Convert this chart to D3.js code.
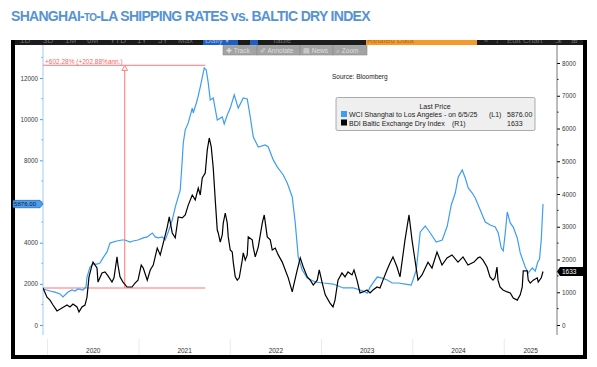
<!DOCTYPE html>
<html>
<head>
<meta charset="utf-8">
<script src="https://cdn.jsdelivr.net/npm/d3@7"></script>
<style>
body { margin: 0; background: #fff; }
svg { display: block; font-family: "Liberation Sans", Arial, sans-serif; }
</style>
</head>
<body>
<svg id="chart" width="597" height="367"></svg>
<script>
//WCI Shanghai to Los Angeles, weekly, USD per 40ft (left axis)
var wciData = [
	["2019-12-14",1750],["2020-01-11",1650],["2020-01-31",1600],["2020-02-20",1510],["2020-03-03",1360],["2020-03-11",1460],
	["2020-03-23",1600],["2020-04-08",1700],["2020-04-20",1650],["2020-05-02",1750],["2020-05-22",1700],["2020-06-03",1850],
	["2020-06-07",2330],["2020-06-19",2820],["2020-07-01",2960],["2020-07-17",2960],["2020-07-29",3010],["2020-08-10",3260],
	["2020-08-26",3550],["2020-09-07",3980],["2020-09-19",4030],["2020-10-05",4080],["2020-10-25",4130],["2020-11-06",4130],
	["2020-11-26",4030],["2020-12-08",4080],["2020-12-28",4130],["2021-01-18",4230],["2021-02-03",4280],["2021-02-23",4470],
	["2021-03-07",4280],["2021-03-19",4230],["2021-04-04",4280],["2021-04-16",4130],["2021-04-28",4520],["2021-05-14",5100],
	["2021-05-26",5730],["2021-06-15",6560],["2021-06-23",8020],["2021-06-27",8840],["2021-07-05",9480],["2021-07-17",9820],
	["2021-08-02",10540],["2021-08-06",10300],["2021-08-22",10930],["2021-09-03",11560],["2021-09-19",12490],["2021-09-27",12390],
	["2021-10-05",11760],["2021-10-13",10930],["2021-10-25",11030],["2021-11-10",9960],["2021-11-30",10110],["2021-12-08",9770],
	["2021-12-20",10200],["2022-01-01",10540],["2022-01-17",11180],["2022-02-02",10540],["2022-02-22",11030],["2022-03-10",10980],
	["2022-03-22",10110],["2022-04-03",9140],["2022-04-23",8650],["2022-05-21",8750],["2022-06-02",8650],["2022-06-22",8020],
	["2022-07-08",7680],["2022-08-01",7290],["2022-08-17",6900],["2022-09-06",6220],["2022-09-18",4960],["2022-09-30",3300],
	["2022-10-16",2670],["2022-11-05",2280],["2022-12-07",2090],["2023-01-08",2040],["2023-02-17",1990],["2023-03-29",1800],
	["2023-05-08",1800],["2023-06-17",1650],["2023-07-03",1550],["2023-07-15",1850],["2023-08-12",2330],["2023-09-01",2280],
	["2023-09-21",2190],["2023-10-11",2040],["2023-11-04",2040],["2023-12-02",1990],["2023-12-26",1940],["2024-01-15",2670],
	["2024-01-31",4520],["2024-02-20",4810],["2024-03-11",4470],["2024-04-04",4030],["2024-04-28",4130],["2024-05-18",4810],
	["2024-06-03",5830],["2024-06-19",6410],["2024-07-01",7190],["2024-07-17",7530],["2024-07-29",7140],["2024-08-10",6660],
	["2024-08-26",6410],["2024-09-07",6170],["2024-09-27",5590],["2024-10-17",5000],["2024-11-06",4860],["2024-11-26",4760],
	["2024-12-08",4470],["2024-12-20",3740],["2024-12-28",3600],["2025-01-05",4470],["2025-01-13",5490],["2025-01-25",4960],
	["2025-02-06",4760],["2025-02-22",4230],["2025-03-06",3500],["2025-03-26",2820],["2025-04-07",2530],["2025-04-23",2770],
	["2025-05-05",2620],["2025-05-15",3060],["2025-05-22",3200],["2025-05-29",4130],["2025-06-05",5876]
];

//BDI Baltic Exchange Dry Index (right axis)
var bdiData = [
	["2019-12-14",1130],["2019-12-30",850],["2020-01-11",760],["2020-01-23",610],["2020-02-08",430],["2020-02-28",520],
	["2020-03-19",610],["2020-03-31",550],["2020-04-12",640],["2020-04-28",550],["2020-05-06",400],["2020-05-18",550],
	["2020-05-30",610],["2020-06-07",850],["2020-06-15",1470],["2020-06-27",1830],["2020-07-01",1920],["2020-07-17",1740],
	["2020-07-21",1310],["2020-08-06",1590],["2020-08-18",1620],["2020-08-30",1500],["2020-09-15",1310],["2020-09-23",1440],
	["2020-10-05",2080],["2020-10-09",1830],["2020-10-17",1470],["2020-10-29",1310],["2020-11-14",1160],["2020-12-04",1160],
	["2020-12-16",1280],["2020-12-28",1370],["2021-01-10",1830],["2021-01-18",1740],["2021-02-03",1370],["2021-02-15",1680],
	["2021-02-27",1830],["2021-03-15",2350],["2021-03-27",2140],["2021-04-08",2500],["2021-04-24",2990],["2021-05-02",3300],
	["2021-05-14",2810],["2021-05-26",2660],["2021-06-07",3300],["2021-06-23",3270],["2021-07-05",3360],["2021-07-17",3660],
	["2021-08-02",3970],["2021-08-14",3820],["2021-08-26",4180],["2021-09-03",3970],["2021-09-11",4490],["2021-09-23",4640],
	["2021-10-01",5340],["2021-10-09",5710],["2021-10-17",5440],["2021-10-25",4790],["2021-11-02",3820],["2021-11-10",2900],
	["2021-11-14",2810],["2021-11-22",2530],["2021-11-30",2750],["2021-12-04",3110],["2021-12-12",3420],["2021-12-20",3110],
	["2021-12-24",2690],["2022-01-01",2290],["2022-01-09",2230],["2022-01-13",1920],["2022-01-21",1470],["2022-01-29",1370],
	["2022-02-06",1440],["2022-02-18",1980],["2022-02-22",2200],["2022-03-02",1980],["2022-03-10",2140],["2022-03-14",2690],
	["2022-03-30",2600],["2022-04-03",2380],["2022-04-11",2080],["2022-04-23",2380],["2022-05-09",3110],["2022-05-17",3360],
	["2022-05-29",2690],["2022-06-10",2600],["2022-06-18",2290],["2022-06-30",2350],["2022-07-12",2140],["2022-07-28",1920],
	["2022-08-09",1680],["2022-08-21",1440],["2022-09-06",1010],["2022-09-10",1160],["2022-09-26",1680],["2022-10-08",2050],
	["2022-10-20",1770],["2022-11-05",1470],["2022-11-17",1370],["2022-11-29",1220],["2022-12-15",1370],["2022-12-23",1680],
	["2023-01-04",1280],["2023-01-16",920],["2023-02-04",670],["2023-02-16",550],["2023-02-24",760],["2023-03-08",1370],
	["2023-03-24",1590],["2023-04-05",1470],["2023-04-17",1620],["2023-05-03",1530],["2023-05-11",1680],["2023-05-23",1370],
	["2023-06-04",980],["2023-06-16",1010],["2023-07-02",1070],["2023-07-14",980],["2023-07-26",1070],["2023-08-11",1160],
	["2023-08-23",1130],["2023-09-04",1370],["2023-09-20",1680],["2023-10-02",1890],["2023-10-14",2080],["2023-10-30",1770],
	["2023-11-11",1470],["2023-12-01",2600],["2023-12-17",3360],["2023-12-29",2600],["2024-01-10",1980],["2024-01-22",1370],
	["2024-02-07",1530],["2024-03-02",1920],["2024-03-18",1740],["2024-04-07",2230],["2024-04-27",1830],["2024-05-17",2050],
	["2024-06-06",2140],["2024-06-30",1920],["2024-07-20",2080],["2024-08-09",1830],["2024-09-02",1920],["2024-09-18",2050],
	["2024-09-26",2080],["2024-10-08",1980],["2024-10-24",1770],["2024-11-05",1470],["2024-11-17",1370],["2024-11-25",1440],
	["2024-12-03",1770],["2024-12-07",1370],["2024-12-15",1160],["2024-12-27",1070],["2025-01-13",1010],["2025-01-25",980],
	["2025-02-06",820],["2025-02-22",760],["2025-03-06",920],["2025-03-14",1160],["2025-03-18",1650],["2025-04-03",1650],
	["2025-04-07",1370],["2025-04-15",1280],["2025-04-27",1370],["2025-05-13",1440],["2025-05-17",1310],["2025-05-29",1440],
	["2025-06-05",1633]
];

//Axis ticks and labels (6000 on the left sits under the last value tag)
var leftTicks = [0, 2000, 4000, 6000, 8000, 10000, 12000];
var leftHidden = [6000];
var leftMinor = [1000, 3000, 5000, 7000, 9000, 11000, 13000];
var rightTicks = [0, 1000, 2000, 3000, 4000, 5000, 6000, 7000, 8000];
var rightMinor = [500, 1500, 2500, 3500, 4500, 5500, 6500, 7500];
var years = ["2020", "2021", "2022", "2023", "2024", "2025"];

//Legend and annotation texts
var legendRows = [
	{name: "WCI Shanghai to Los Angeles -  on 6/5/25", axis: "(L1)", last: "5876.00", color: "#3d9df2"},
	{name: "BDI Baltic Exchange Dry Index", axis: "(R1)", last: "1633", color: "#000"}
];
var lastWci = 5876;
var lastBdi = 1633;
var changeStart = ["2019-12-14", 1797];
var changeEnd = ["2021-09-19", 12618];
var changeMarker = "2020-11-05";
var changeLabel = "+602.28% (+202.88%ann.)";
var toolbarItems = [["1D",20],["3D",43],["1M",65],["6M",87],["YTD",110],["1Y",137],["5Y",158],["Max",178],["Table",272],["\u00AB",484],["\u2195",495],["Edit Chart",507],["\u21F2",555],["\u229E",571]];

var parse = d3.timeParse("%Y-%m-%d");
var svg = d3.select("#chart");

//Title with the small caps "to", letters pulled together like the original
var title = svg.append("text")
	.attr("x", 11).attr("y", 21)
	.attr("fill", "#5693d3")
	.attr("font-weight", "bold")
	.attr("font-size", 14)
	.attr("letter-spacing", -0.7);
title.append("tspan").text("SHANGHAI-");
title.append("tspan").attr("font-size", 10).text("TO");
title.append("tspan").text("-LA SHIPPING RATES vs. BALTIC DRY INDEX");

//Black frame of the terminal window
svg.append("rect").attr("x", 11).attr("y", 40).attr("width", 576).attr("height", 319).attr("fill", "#000");
svg.append("rect").attr("x", 15).attr("y", 45).attr("width", 568).attr("height", 310).attr("fill", "#fff");
svg.append("rect").attr("x", 15).attr("y", 40).attr("width", 568).attr("height", 5).attr("fill", "#1c1c1c");

//Toolbar strip, only its bottom is visible
var clip = svg.append("defs");
clip.append("clipPath").attr("id", "barClip").append("rect").attr("x", 11).attr("y", 40).attr("width", 576).attr("height", 5);
clip.append("clipPath").attr("id", "plotClip").append("rect").attr("x", 43).attr("y", 45).attr("width", 514).attr("height", 290);
var bar = svg.append("g").attr("clip-path", "url(#barClip)");
bar.append("rect").attr("x", 203).attr("y", 40).attr("width", 35).attr("height", 5).attr("fill", "#1d5fc4");
bar.append("rect").attr("x", 250).attr("y", 40).attr("width", 8).attr("height", 5).attr("fill", "#1d5fc4");
bar.append("rect").attr("x", 366).attr("y", 40).attr("width", 111).attr("height", 5).attr("fill", "#f39a2b");
bar.selectAll("text.tb").data(toolbarItems).enter().append("text")
	.attr("x", function(d){ return d[1]; }).attr("y", 43)
	.attr("font-size", 8).attr("fill", "#6e6e6e").text(function(d){ return d[0]; });
bar.append("text").attr("x", 205).attr("y", 43).attr("font-size", 8).attr("fill", "#9fb6e0").text("Daily  \u25BE");
bar.append("text").attr("x", 367).attr("y", 43).attr("font-size", 8).attr("fill", "#b86a10").text("Related Data");

//Grey buttons under the toolbar
var btns = [["\u271A Track", 223, 34], ["\u2710 Annotate", 257, 43], ["\u25A4 News", 300, 33], ["\u2315 Zoom", 333, 34]];
var btn = svg.append("g").selectAll("g").data(btns).enter().append("g");
btn.append("rect").attr("x", function(d){ return d[1]; }).attr("y", 45.5).attr("width", function(d){ return d[2]; }).attr("height", 9.5)
	.attr("fill", "#a3a3a3").attr("stroke", "#8c8c8c").attr("stroke-width", 0.6);
btn.append("text").attr("x", function(d){ return d[1] + 3; }).attr("y", 53).attr("font-size", 6.5).attr("fill", "#dedede")
	.text(function(d){ return d[0]; });

//Scales
var x = d3.scaleTime().domain([parse("2019-12-14"), parse("2025-07-31")]).range([43, 557]);
var yL = d3.scaleLinear().domain([0, 12000]).range([325, 78]);
var yR = d3.scaleLinear().domain([0, 8000]).range([325, 63]);

//Year separators and labels
years.forEach(function(y, i) {
	var start = parse(y + "-01-01");
	var end = i < years.length - 1 ? parse(years[i + 1] + "-01-01") : x.domain()[1];
	svg.append("line").attr("x1", x(start)).attr("x2", x(start)).attr("y1", 339).attr("y2", 355)
		.attr("stroke", "#e6e6e6").attr("stroke-width", 0.8);
	svg.append("text").attr("x", (x(start) + x(end)) / 2).attr("y", 353)
		.attr("text-anchor", "middle").attr("font-size", 6.5).attr("fill", "#333").text(y);
});

//Left axis (blue)
var leftAxis = svg.append("g").attr("transform", "translate(43,0)")
	.call(d3.axisLeft(yL).tickValues(leftTicks).tickSize(3).tickPadding(2)
		.tickFormat(function(d){ return leftHidden.indexOf(d) >= 0 ? "" : d3.format("d")(d); }));
leftAxis.select(".domain").remove();
leftAxis.selectAll("line").attr("stroke", "#3d9df2");
leftAxis.selectAll("text").attr("font-size", 6.3).attr("fill", "#3a3a3a").attr("font-family", "Liberation Sans, Arial, sans-serif");
svg.append("g").selectAll("line").data(leftMinor).enter().append("line")
	.attr("x1", 41.5).attr("x2", 43).attr("y1", function(d){ return yL(d); }).attr("y2", function(d){ return yL(d); })
	.attr("stroke", "#3d9df2");
svg.append("line").attr("x1", 43).attr("x2", 43).attr("y1", 45).attr("y2", 335).attr("stroke", "#9ccaf5").attr("stroke-width", 1);

//Right axis (black)
var rightAxis = svg.append("g").attr("transform", "translate(557,0)")
	.call(d3.axisRight(yR).tickValues(rightTicks).tickSize(3).tickPadding(2).tickFormat(d3.format("d")));
rightAxis.select(".domain").remove();
rightAxis.selectAll("line").attr("stroke", "#000");
rightAxis.selectAll("text").attr("font-size", 6.3).attr("fill", "#3a3a3a").attr("font-family", "Liberation Sans, Arial, sans-serif");
svg.append("g").selectAll("line").data(rightMinor).enter().append("line")
	.attr("x1", 557).attr("x2", 558.5).attr("y1", function(d){ return yR(d); }).attr("y2", function(d){ return yR(d); })
	.attr("stroke", "#000");
svg.append("line").attr("x1", 557).attr("x2", 557).attr("y1", 45).attr("y2", 335).attr("stroke", "#555").attr("stroke-width", 0.8);

//Percentage change annotation
var redCol = "#ff6464";
var ann = svg.append("g");
[changeStart[1], changeEnd[1]].forEach(function(v) {
	ann.append("line").attr("x1", x(parse(changeStart[0]))).attr("x2", x(parse(changeEnd[0])) + 1)
		.attr("y1", yL(v)).attr("y2", yL(v)).attr("stroke", redCol).attr("stroke-width", 0.9);
});
var mx = x(parse(changeMarker));
ann.append("line").attr("x1", mx).attr("x2", mx).attr("y1", yL(changeEnd[1]) + 5).attr("y2", yL(changeStart[1]))
	.attr("stroke", redCol).attr("stroke-width", 0.9);
ann.append("path").attr("d", d3.symbol().type(d3.symbolTriangle).size(14)())
	.attr("transform", "translate(" + mx + "," + (yL(changeEnd[1]) + 3.5) + ")")
	.attr("fill", "#fff").attr("stroke", redCol).attr("stroke-width", 0.8);
ann.append("text").attr("x", 45).attr("y", yL(changeEnd[1]) - 1.5).attr("font-size", 6.5).attr("fill", redCol).text(changeLabel);

//Series lines
var lineL = d3.line().x(function(d){ return x(parse(d[0])); }).y(function(d){ return yL(d[1]); });
var lineR = d3.line().x(function(d){ return x(parse(d[0])); }).y(function(d){ return yR(d[1]); });
var plot = svg.append("g").attr("clip-path", "url(#plotClip)");
plot.append("path").attr("d", lineL(wciData)).attr("fill", "none").attr("stroke", "#3d9df2").attr("stroke-width", 1.2);
plot.append("path").attr("d", lineR(bdiData)).attr("fill", "none").attr("stroke", "#000").attr("stroke-width", 1.2);

//Last value tags on the axes
var ty = yL(lastWci);
svg.append("path").attr("d", "M13," + (ty - 3.7) + "H40L43," + ty + "L40," + (ty + 3.7) + "H13Z")
	.attr("fill", "#4a9ff0").attr("stroke", "#1b4f8f").attr("stroke-width", 0.6);
svg.append("text").attr("x", 14).attr("y", ty + 2.2).attr("font-size", 6.1).attr("fill", "#0b1a3a").text("5876.00");
var ry = yR(lastBdi);
svg.append("path").attr("d", "M557," + ry + "L560," + (ry - 4.5) + "H583V" + (ry + 4.5) + "H560Z").attr("fill", "#000");
svg.append("text").attr("x", 562).attr("y", ry + 2.4).attr("font-size", 6.5).attr("fill", "#fff").text(lastBdi);

//Source and legend
svg.append("text").attr("x", 332).attr("y", 79).attr("font-size", 6.5).attr("fill", "#222").text("Source: Bloomberg");
var leg = svg.append("g");
leg.append("rect").attr("x", 336).attr("y", 97.5).attr("width", 199).attr("height", 33).attr("rx", 1.5)
	.attr("fill", "#efefef").attr("stroke", "#8a8a8a").attr("stroke-width", 0.7);
leg.append("text").attr("x", 435).attr("y", 108.5).attr("text-anchor", "middle").attr("font-size", 7).attr("fill", "#222").text("Last Price");
var rows = leg.selectAll("g.row").data(legendRows).enter().append("g")
	.attr("transform", function(d, i){ return "translate(0," + (i * 8.5) + ")"; });
rows.append("rect").attr("x", 341).attr("y", 111).attr("width", 6).attr("height", 6).attr("fill", function(d){ return d.color; });
rows.append("text").attr("x", 349).attr("y", 117).attr("font-size", 7).attr("fill", "#222").text(function(d){ return d.name; });
rows.append("text").attr("x", function(d, i){ return i == 0 ? 489 : 452; }).attr("y", 117).attr("font-size", 7).attr("fill", "#222")
	.text(function(d){ return d.axis; });
rows.append("text").attr("x", 507).attr("y", 117).attr("font-size", 7).attr("fill", "#222").text(function(d){ return d.last; });
</script>
</body>
</html>
